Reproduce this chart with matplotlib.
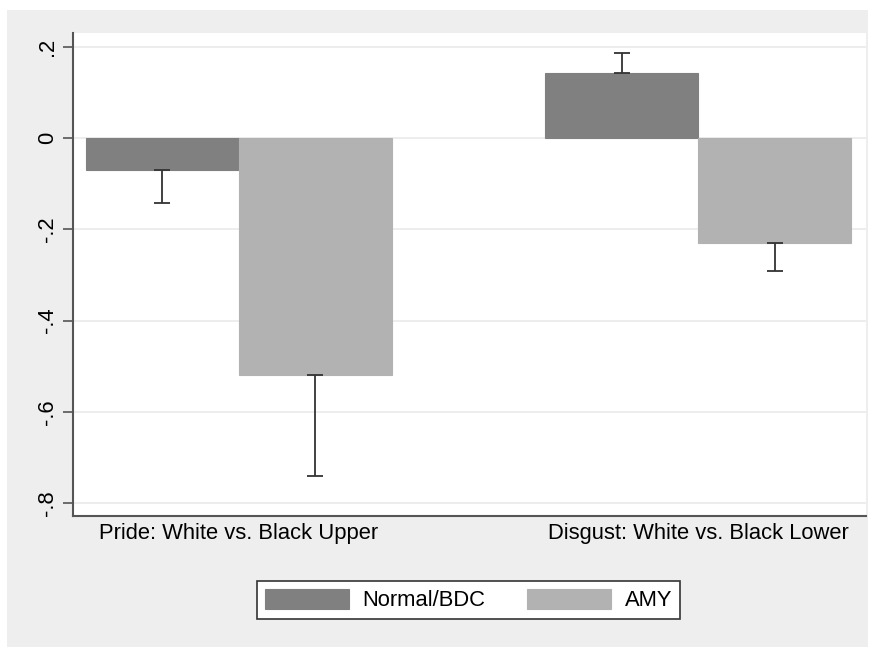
import matplotlib.pyplot as plt
from matplotlib.patches import Rectangle
import numpy as np

plt.rcParams['font.family'] = ['Liberation Sans', 'DejaVu Sans']

# 数据
categories = ["Pride: White vs. Black Upper", "Disgust: White vs. Black Lower"]
groups = ["Normal/BDC", "AMY"]
normal_vals = [-0.070, 0.142]
amy_vals = [-0.520, -0.230]
normal_err = [0.072, 0.044]
amy_err = [0.220, 0.061]

bar_colors = ["#808080", "#b2b2b2"]
bg_color = "#eeeeee"
fs = 15.8

W, H = 874, 647
fig = plt.figure(figsize=(W / 100, H / 100), dpi=100, facecolor="white")

# 外围灰色背景
fig.patches.append(Rectangle((7 / W, 0), 861 / W, 1 - 10 / H, transform=fig.transFigure,
                             facecolor=bg_color, edgecolor="none", zorder=-10))

ax = fig.add_axes([73 / W, 1 - 516 / H, (866 - 73) / W, (516 - 33) / H])
ax.set_facecolor("white")

x = np.arange(len(categories))
width = 0.333

series = [(normal_vals, normal_err), (amy_vals, amy_err)]
for i, (vals, errs) in enumerate(series):
    pos = x - width / 2 + i * width
    vals = np.array(vals)
    errs = np.array(errs)
    # 误差线只画远离0的一侧
    lower = np.where(vals < 0, errs, 0)
    upper = np.where(vals >= 0, errs, 0)
    ax.bar(pos, vals, width, color=bar_colors[i], edgecolor=bar_colors[i],
           linewidth=0.8, label=groups[i], zorder=2)
    ax.errorbar(pos, vals, yerr=[lower, upper], fmt="none", ecolor="#333333",
                elinewidth=1.3, capsize=6, capthick=1.3, zorder=3)

ax.set_xlim(-0.361, 1.365)
ax.set_ylim(-0.828, 0.23)

yticks = [-0.8, -0.6, -0.4, -0.2, 0, 0.2]
ytick_labels = ["-.8", "-.6", "-.4", "-.2", "0", ".2"]
ax.set_yticks(yticks)
ax.set_yticklabels(ytick_labels, rotation=90, va="center", fontsize=fs)
ax.yaxis.grid(True, color="#eaeaea", linewidth=1.2, zorder=0)
ax.set_axisbelow(True)

ax.set_xticks(x)
ax.set_xticklabels(categories, fontsize=fs)
ax.tick_params(axis="x", length=0, pad=5)
ax.tick_params(axis="y", length=7, width=1.2, color="#555555", pad=4)

for s in ["top", "right"]:
    ax.spines[s].set_visible(False)
for s in ["left", "bottom"]:
    ax.spines[s].set_color("#555555")
    ax.spines[s].set_linewidth(1.5)

leg = fig.legend(loc="center", bbox_to_anchor=(468.5 / W, 1 - 600 / H), ncol=2,
                 fontsize=fs, frameon=True, fancybox=False, edgecolor="#333333",
                 handlelength=3.83, handleheight=1.05, handletextpad=0.63,
                 columnspacing=1.9, borderpad=0.35)
leg.get_frame().set_linewidth(1.2)
leg.get_frame().set_alpha(1)
leg.get_frame().set_facecolor("white")

fig.savefig("out.png", dpi=100, facecolor="white")
